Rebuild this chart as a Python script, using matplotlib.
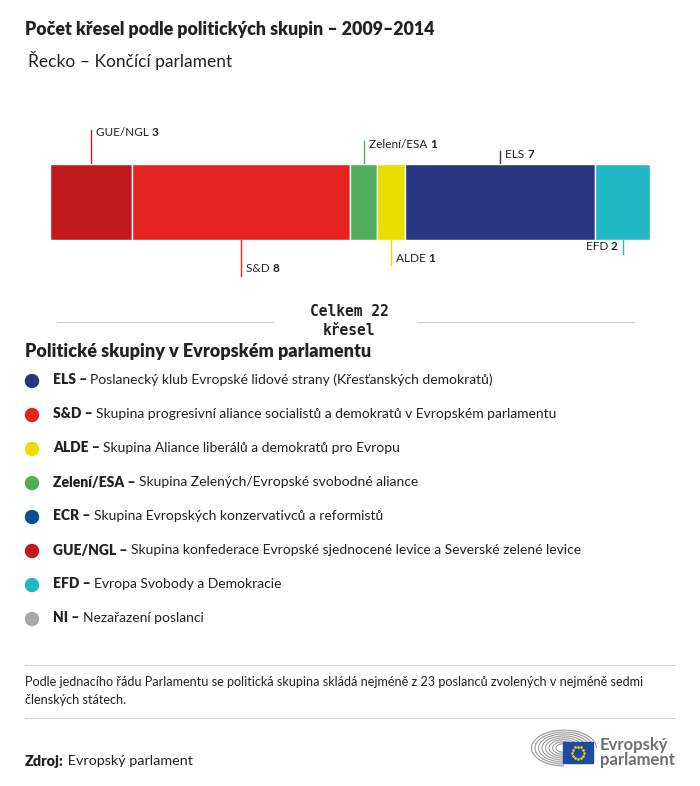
import matplotlib.pyplot as plt
import matplotlib.patches as mpatches
import numpy as np

plt.rcParams['font.family'] = ['Lato', 'DejaVu Sans']

# data
groups = ['GUE/NGL', 'S&D', 'Zelení/ESA', 'ALDE', 'ELS', 'EFD']
seats = [3, 8, 1, 1, 7, 2]
bar_colors = ['#C01A1F', '#E52420', '#52AE5A', '#E9DE00', '#283580', '#22B7C5']

legend_abbr = ['ELS', 'S&D', 'ALDE', 'Zelení/ESA', 'ECR', 'GUE/NGL', 'EFD', 'NI']
legend_desc = ['Poslanecký klub Evropské lidové strany (Křesťanských demokratů)',
               'Skupina progresivní aliance socialistů a demokratů v Evropském parlamentu',
               'Skupina Aliance liberálů a demokratů pro Evropu',
               'Skupina Zelených/Evropské svobodné aliance',
               'Skupina Evropských konzervativců a reformistů',
               'Skupina konfederace Evropské sjednocené levice a Severské zelené levice',
               'Evropa Svobody a Demokracie',
               'Nezařazení poslanci']
legend_colors = ['#283580', '#E52420', '#E9DE00', '#52AE5A', '#0E4C97', '#C01A1F', '#22B7C5', '#A8A8A8']

# label placement: +above / -below, pixel length of leader line
label_side = [1, -1, 1, -1, 1, -1]
label_len = [34, 36, 23, 25, 13, 14]

fig = plt.figure(figsize=(7, 7.86), dpi=100)
ov = fig.add_axes([0, 0, 1, 1])
ov.set_xlim(0, 700)
ov.set_ylim(786, 0)
ov.axis('off')

bar_top, bar_bot = 164, 240
bx = fig.add_axes([50/700, 1-bar_bot/786, 600/700, (bar_bot-bar_top)/786])
left = np.concatenate([[0], np.cumsum(seats)[:-1]])
bx.barh(0, seats, left=left, height=1, color=bar_colors, edgecolor='white', linewidth=1)
bx.set_xlim(0, sum(seats))
bx.set_ylim(-0.5, 0.5)
bx.axis('off')

fig.canvas.draw()
r = fig.canvas.get_renderer()

def rich(x, y, bold, normal, size, ha='left', color='#222222', bold_first=True, bw='bold'):
    # bold part then normal part (or reversed), x in overlay pixels
    parts = [(bold, bw), (normal, 'normal')] if bold_first else [(normal, 'normal'), (bold, bw)]
    ts = []
    for s, w in parts:
        t = ov.text(0, y, s, fontsize=size, fontweight=w, color=color, va='center')
        ts.append(t)
    widths = [t.get_window_extent(r).width for t in ts]
    x0 = x if ha == 'left' else x - sum(widths)
    for t, w in zip(ts, widths):
        t.set_x(x0)
        x0 += w

for i, g in enumerate(groups):
    cx = bx.transData.transform((left[i] + seats[i]/2, 0))[0]
    c = bar_colors[i]
    if label_side[i] > 0:
        y1 = bar_top - label_len[i]
        ov.plot([cx, cx], [bar_top, y1], color=c, lw=1)
        ty = y1 + 3
    else:
        y1 = bar_bot + label_len[i]
        ov.plot([cx, cx], [bar_bot, y1], color=c, lw=1)
        ty = y1 - 7
    if i == len(groups) - 1:
        rich(cx - 5, ty, str(seats[i]), g + ' ', 8.5, ha='right', bold_first=False)
    else:
        rich(cx + 5, ty, str(seats[i]), g + ' ', 8.5, bold_first=False)

ov.text(25, 29, 'Počet křesel podle politických skupin – 2009–2014', fontsize=12.8,
        fontweight='heavy', color='#222222', va='center')
ov.text(28, 60, 'Řecko – Končící parlament', fontsize=12.5, color='#222222', va='center')

# total
ov.plot([57, 273], [322, 322], color='#cccccc', lw=0.8)
ov.plot([418, 634], [322, 322], color='#cccccc', lw=0.8)
ov.text(349, 321, 'Celkem %d\nkřesel' % sum(seats), fontsize=10.5, family='DejaVu Sans Mono',
        fontweight='bold', color='#222222', ha='center', va='center', linespacing=1.3)

ov.text(25, 352, 'Politické skupiny v Evropském parlamentu', fontsize=13,
        fontweight='heavy', color='#222222', va='center')
for i, (a, d) in enumerate(zip(legend_abbr, legend_desc)):
    y = 381 + i*34
    ov.add_patch(mpatches.Circle((32, y), 6.5, color=legend_colors[i]))
    rich(53, y - 1, a + ' – ', d, 10, bw='heavy')

ov.plot([25, 675], [665, 665], color='#d5d5d5', lw=0.8)
ov.plot([25, 675], [718, 718], color='#d5d5d5', lw=0.8)
ov.text(25, 682, 'Podle jednacího řádu Parlamentu se politická skupina skládá nejméně z 23 poslanců '
        'zvolených v nejméně sedmi', fontsize=9.1, color='#222222', va='center')
ov.text(25, 700, 'členských státech.', fontsize=9.1, color='#222222', va='center')
rich(25, 761, 'Zdroj:', ' Evropský parlament', 10.4, bw='heavy')

# logo
for rad in np.arange(8, 36, 3.5):
    ov.add_patch(mpatches.Arc((564, 748), 2*rad, 1.1*rad, theta1=-270, theta2=0,
                              color='#9a9a9a', lw=0.8))
ov.add_patch(mpatches.Rectangle((563, 742), 30, 21, color='#1F4AA0'))
for a in np.linspace(0, 2*np.pi, 12, endpoint=False):
    ov.plot(578 + 6*np.cos(a), 752.5 + 6*np.sin(a), 'o', ms=0.9, color='#F2D400')
ov.text(600, 745, 'Evropský', fontsize=12, fontweight='bold', color='#6f6f6f', va='center')
ov.text(600, 760, 'parlament', fontsize=12, fontweight='bold', color='#6f6f6f', va='center')

plt.savefig('out.png', dpi=100)
